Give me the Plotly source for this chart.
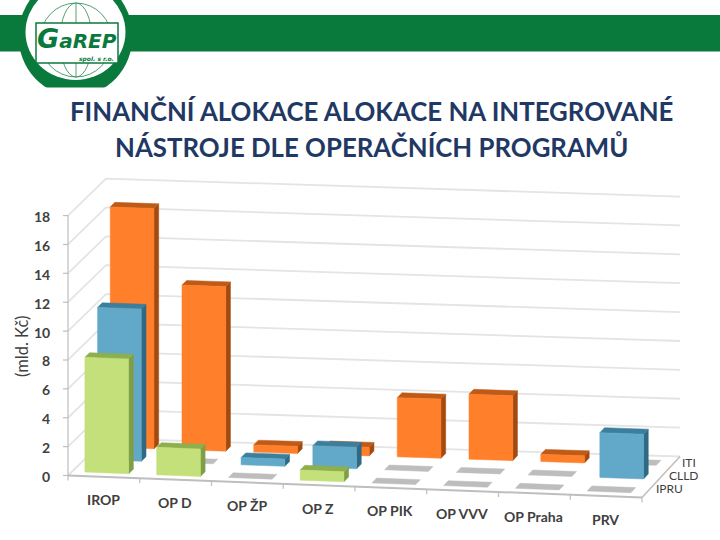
import plotly.graph_objects as go

categories = ['IROP', 'OP D', 'OP ŽP', 'OP Z', 'OP PIK', 'OP VVV', 'OP Praha', 'PRV']
iti = [16.65, 11.4, 0.5, 0.6, 4.1, 4.5, 0.5, 0]
clld = [10.55, 0, 0.5, 1.5, 0, 0, 0, 3.1]
ipru = [7.95, 1.9, 0, 0.7, 0, 0, 0, 0]
y_ticks = [0, 2, 4, 6, 8, 10, 12, 14, 16, 18]

# back row first so the front bars paint over it
series = [
    ('ITI', iti, 2, '#FF7F2A', '#BF5A17', '#A34A10'),
    ('CLLD', clld, 1, '#62A9C9', '#3B7F9D', '#2F6A85'),
    ('IPRU', ipru, 0, '#C3E07A', '#8DAF4C', '#7F9E45'),
]

GREEN = '#0A7A3C'
GRID = '#E4E4E4'
AXIS = '#BEBEBE'
TEXT = '#404040'
TITLE = '#1F3864'
FONT = 'Lato'

# oblique projection of the chart box onto the page
X0, Y0 = 68, 475.5
CAT_W = 71.75
DEPTH_X, DEPTH_Y = 38, 37
UNIT = 14.44


def project(cat, depth, value):
    slope = 2.75 - 0.5 * depth
    x = X0 + cat * CAT_W + depth * DEPTH_X
    y = Y0 + cat * slope - depth * DEPTH_Y - value * UNIT
    return x, y


fig = go.Figure()


def poly(points, color):
    xs = [p[0] for p in points] + [points[0][0]]
    ys = [p[1] for p in points] + [points[0][1]]
    fig.add_trace(go.Scatter(x=xs, y=ys, mode='lines', fill='toself', fillcolor=color,
                             line=dict(color=color, width=0.5), hoverinfo='skip', showlegend=False))


def line(points, color, width):
    fig.add_trace(go.Scatter(x=[p[0] for p in points], y=[p[1] for p in points], mode='lines',
                             line=dict(color=color, width=width), hoverinfo='skip', showlegend=False))


# walls
for v in y_ticks:
    line([project(0, 0, v), project(0, 1, v), project(8, 1, v)], GRID, 1.8)
    a = project(0, 0, v)
    line([(a[0] - 5, a[1]), a], AXIS, 1.2)
line([project(0, 0, 0), project(0, 0, 18)], AXIS, 1.2)

# floor edges
line([project(8, 0, 0), project(8, 1, 0)], AXIS, 1.5)
line([project(0, 0, 0), project(8, 0, 0)], AXIS, 2)
for i in range(len(categories) + 1):
    a = project(i, 0, 0)
    line([a, (a[0], a[1] + 5)], AXIS, 1.2)

# bars
GAP = 0.18
BAR = 0.61
ROW_IN = 0.315 / 3
ROW_D = 0.37 / 3
for name, values, row, front, top, side in series:
    for i, v in enumerate(values):
        c0, c1 = i + GAP, i + GAP + BAR
        d0, d1 = row / 3 + ROW_IN, row / 3 + ROW_IN + ROW_D
        if v == 0:
            # empty categories only show a flat grey footprint
            poly([project(c0, d0, 0), project(c1, d0, 0), project(c1, d1, 0), project(c0, d1, 0)], '#BDBDBD')
            continue
        poly([project(c1, d0, 0), project(c1, d1, 0), project(c1, d1, v), project(c1, d0, v)], side)
        poly([project(c0, d0, v), project(c1, d0, v), project(c1, d1, v), project(c0, d1, v)], top)
        poly([project(c0, d0, 0), project(c1, d0, 0), project(c1, d0, v), project(c0, d0, v)], front)

annotations = []


def label(x, y, text, size=13, color=TEXT, anchor='center', angle=0, family=FONT):
    annotations.append(dict(x=x, y=y, xref='x', yref='y', text=text, showarrow=False, xanchor=anchor,
                            yanchor='middle', textangle=angle, font=dict(family=family, size=size, color=color)))


for v in y_ticks:
    a = project(0, 0, v)
    label(52, a[1] + 1, '<b>%d</b>' % v, size=14, anchor='right')
label(22, 347, '(mld. Kč)', size=16.5, angle=-90)
for i, c in enumerate(categories):
    a = project(i + 0.49, 0, 0)
    label(a[0], a[1] + 23, '<b>%s</b>' % c, size=14)
for name, values, row, *_ in series:
    a = project(8, (row + 0.5) / 3, 0)
    label(a[0] + 6, a[1] - 2 + row * 0.5, name, size=12, anchor='left')

# title
label(371, 111, '<b>FINANČNÍ ALOKACE ALOKACE NA INTEGROVANÉ</b>', size=25.8, color=TITLE)
label(371, 146, '<b>NÁSTROJE DLE OPERAČNÍCH PROGRAMŮ</b>', size=25.8, color=TITLE)


# header band and logo
def circle(cx, cy, rx, ry, fill, line_color=None, width=0):
    return dict(type='circle', xref='x', yref='y', x0=cx - rx, x1=cx + rx, y0=cy - ry, y1=cy + ry,
                fillcolor=fill, line=dict(color=line_color or fill, width=width), layer='above')


shapes = [
    dict(type='rect', xref='x', yref='y', x0=0, x1=720, y0=15, y1=51.5, fillcolor=GREEN, line_width=0, layer='above'),
    circle(75.5, 36, 57, 60, GREEN),
    circle(75.5, 32, 50, 48, 'white'),
    circle(76, 40, 36, 37, 'white', GREEN, 0.7),
    circle(76, 40, 16, 37, 'white', GREEN, 0.7),
    dict(type='line', xref='x', yref='y', x0=76, x1=76, y0=3, y1=77, line=dict(color=GREEN, width=0.7), layer='above'),
    dict(type='rect', xref='x', yref='y', x0=0, x1=140, y0=87.5, y1=100, fillcolor='white', line_width=0, layer='above'),
    dict(type='rect', xref='x', yref='y', x0=36, x1=118, y0=23, y1=63, fillcolor='white',
         line=dict(color=GREEN, width=1.5), layer='above'),
]
label(77, 38, '<b><i><span style="font-size:27px">G</span>aREP</i></b>', size=20, color=GREEN, family='DejaVu Sans')
label(96, 58.5, '<b><i>spol. s r.o.</i></b>', size=6, color=GREEN, family='DejaVu Sans')

fig.update_layout(
    width=720, height=540,
    margin=dict(l=0, r=0, t=0, b=0),
    paper_bgcolor='white', plot_bgcolor='white',
    xaxis=dict(range=[0, 720], visible=False, fixedrange=True),
    yaxis=dict(range=[540, 0], visible=False, fixedrange=True),
    annotations=annotations,
    shapes=shapes,
    showlegend=False,
)
# the page body has a default margin that would push the chart off the window corner
fig.write_html("out.html", config=dict(displayModeBar=False), post_script="document.body.style.margin='0';")
